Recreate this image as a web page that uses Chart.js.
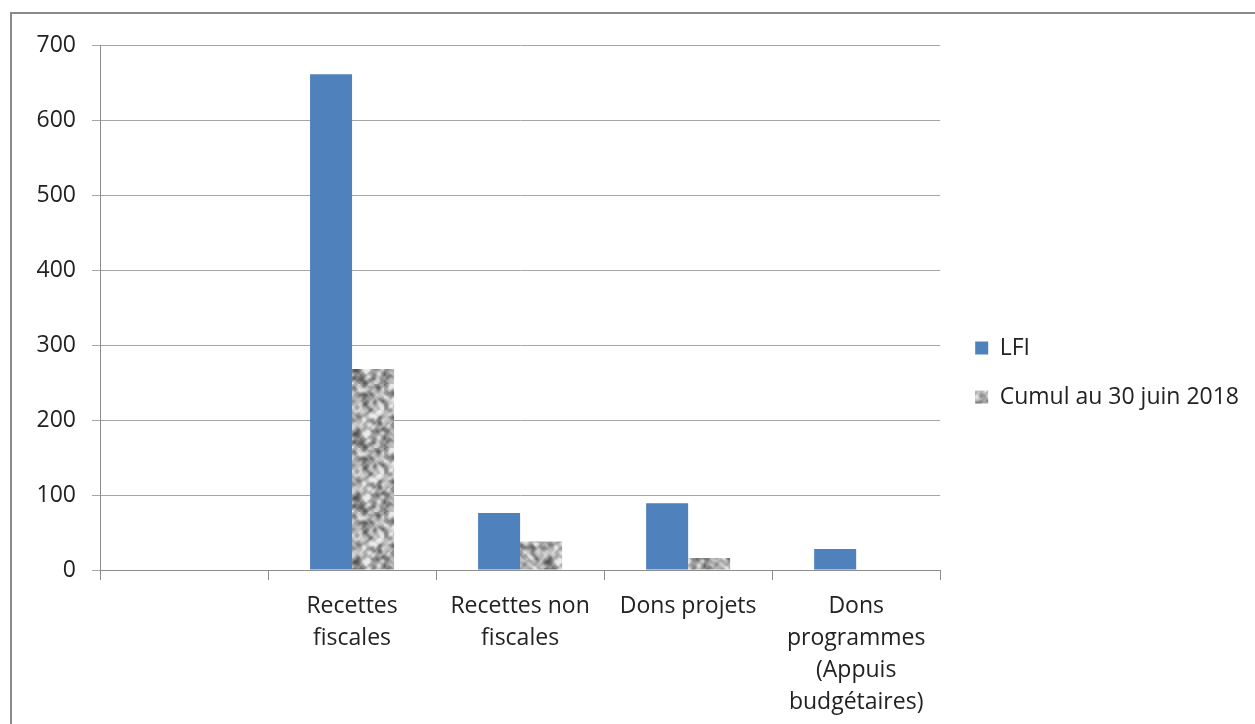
<!DOCTYPE html>
<html>
<head>
<meta charset="utf-8">
<script src="https://cdn.jsdelivr.net/npm/chart.js@4.4.1/dist/chart.umd.min.js"></script>
<style>
  html, body { margin: 0; padding: 0; background: #fff; }
  #wrap { position: relative; width: 1255px; height: 724px; overflow: hidden; }
  #frame { position: absolute; left: 10px; top: 12px; width: 1260px; height: 720px;
           border-top: 2px solid #8a8a8a; border-left: 2px solid #8a8a8a; box-sizing: border-box; pointer-events: none; }
  canvas { position: absolute; left: 0; top: 0; }
</style>
</head>
<body>
<div id="wrap">
  <canvas id="c" width="1255" height="724"></canvas>
  <div id="frame"></div>
</div>
<script>
// ---- Data ----
const categories = [
  "",
  ["Recettes", "fiscales"],
  ["Recettes non", "fiscales"],
  ["Dons projets"],
  ["Dons", "programmes", "(Appuis", "budgétaires)"]
];
const seriesNames = ["LFI", "Cumul au 30 juin 2018"];
const lfiValues = [null, 661, 76, 89, 28];
const cumulValues = [null, 268, 38, 16, 0];
const yTicks = [0, 100, 200, 300, 400, 500, 600, 700];

// ---- Gray noise texture for the second series ----
function makeNoisePattern() {
  const size = 32, scale = 2;
  const raw = document.createElement('canvas');
  raw.width = size; raw.height = size;
  const rctx = raw.getContext('2d');
  const img = rctx.createImageData(size, size);
  function hash(x, y) {
    const s = Math.sin(x * 127.1 + y * 311.7) * 43758.5453;
    return s - Math.floor(s);
  }
  const vals = [];
  for (let y = 0; y < size; y++) for (let x = 0; x < size; x++) vals.push(hash(x, y));
  for (let y = 0; y < size; y++) {
    for (let x = 0; x < size; x++) {
      let sum = 0, n = 0;
      for (let dy = -1; dy <= 1; dy++) for (let dx = -1; dx <= 1; dx++) {
        const w = (dx === 0 && dy === 0) ? 3 : 1;
        const xx = (x + dx + size) % size, yy = (y + dy + size) % size;
        sum += vals[yy * size + xx] * w; n += w;
      }
      const v = sum / n;
      const g = Math.max(85, Math.min(235, Math.round(172 + (v - 0.5) * 360)));
      const i = (y * size + x) * 4;
      img.data[i] = g; img.data[i + 1] = g; img.data[i + 2] = g; img.data[i + 3] = 255;
    }
  }
  rctx.putImageData(img, 0, 0);
  const big = document.createElement('canvas');
  big.width = size * scale; big.height = size * scale;
  const bctx = big.getContext('2d');
  bctx.imageSmoothingEnabled = true;
  bctx.imageSmoothingQuality = 'high';
  bctx.drawImage(raw, 0, 0, size * scale, size * scale);
  const ctx = document.getElementById('c').getContext('2d');
  return ctx.createPattern(big, 'repeat');
}
const noise = makeNoisePattern();

const FONT = "'Open Sans', 'Liberation Sans', sans-serif";

// Raise the legend block slightly (its vertical band ends above the canvas bottom)
const legendBand = {
  id: 'legendBand',
  afterLayout(chart) {
    if (chart.legend) { chart.legend.bottom -= 24; chart.legend.height -= 24; }
  }
};

new Chart(document.getElementById('c'), {
  type: 'bar',
  data: {
    labels: categories,
    datasets: [
      { label: seriesNames[0], data: lfiValues, backgroundColor: '#4F81BD', borderWidth: 0,
        categoryPercentage: 0.5, barPercentage: 1.0 },
      { label: seriesNames[1], data: cumulValues, backgroundColor: noise, borderWidth: 0,
        categoryPercentage: 0.5, barPercentage: 1.0 }
    ]
  },
  plugins: [legendBand],
  options: {
    responsive: false,
    animation: false,
    events: [],
    layout: { padding: { top: 45, right: 6, bottom: 0, left: 10 } },
    plugins: {
      tooltip: { enabled: false },
      legend: {
        position: 'right',
        align: 'center',
        maxWidth: 340,
        labels: {
          boxWidth: 13, boxHeight: 13, padding: 26,
          color: '#222',
          font: { family: FONT, size: 23 }
        }
      }
    },
    scales: {
      x: {
        grid: { offset: true, drawOnChartArea: false, drawTicks: true, tickLength: 10, color: '#8c8c8c', lineWidth: 1 },
        border: { display: true, color: '#8c8c8c', width: 1 },
        ticks: { autoSkip: false, maxRotation: 0, minRotation: 0, padding: 10, color: '#222',
                 font: { family: FONT, size: 23, lineHeight: 32 / 23 } },
        afterFit: (s) => { s.height = 154; }
      },
      y: {
        min: 0, max: 700,
        afterBuildTicks: (s) => { s.ticks = yTicks.map(v => ({ value: v })); },
        grid: { color: '#a6a6a6', lineWidth: 1, drawTicks: true, tickLength: 8 },
        border: { display: true, color: '#8c8c8c', width: 1 },
        ticks: { padding: 16, color: '#222', font: { family: FONT, size: 23 } },
        afterFit: (s) => { s.width = 90; }
      },
      gap: {
        position: 'right',
        display: true,
        grid: { display: false },
        border: { display: false },
        ticks: { display: false },
        afterFit: (s) => { s.width = 9; }
      }
    }
  }
});
</script>
</body>
</html>
